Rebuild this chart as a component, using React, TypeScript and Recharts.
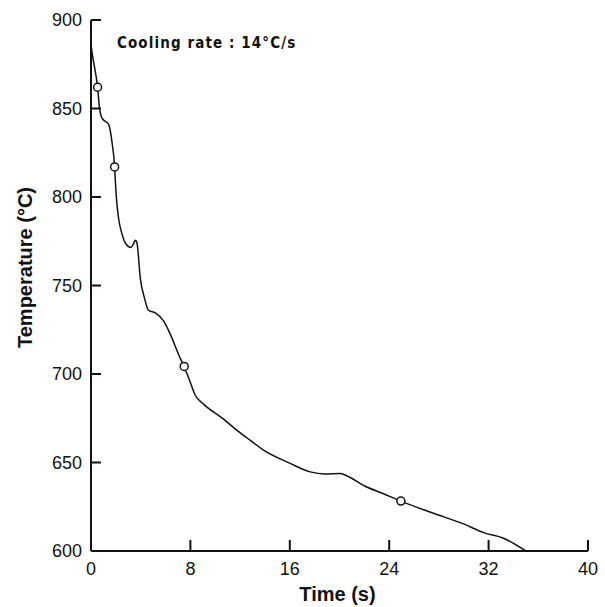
import React from 'react';
import { ComposedChart, Line, XAxis, YAxis } from 'recharts';

// cooling curve
const timeValues = [
  0, 0.12, 0.53, 0.69, 0.85, 1.01, 1.42, 1.69, 1.9, 1.96, 2.05, 2.22, 2.5, 2.76, 3.22, 3.45,
  3.56, 3.7, 3.97, 4.3, 4.63, 5.17, 5.84, 6.38, 7.05, 7.5, 7.85, 8.39, 9.06, 10.67, 11.6,
  12.82, 13.89, 16.03, 17.64, 18.8, 20.06, 20.86, 22.07, 23.5, 24.94, 27.56, 29.98, 31.59,
  33.2, 34.94,
];
const tempValues = [
  886, 880, 862, 850, 845, 843.5, 841, 831, 817, 809, 799, 788, 779, 774, 771.5, 774,
  775.5, 774, 754, 743, 736, 734.5, 730, 722.5, 711, 704, 698, 688, 683, 674.5, 669,
  662.5, 657, 649.5, 644.7, 643.5, 643.8, 641.5, 636.6, 632.5, 628.2, 621.3, 615.3, 610.4,
  607.2, 600.3,
];

// open circle markers
const markerTimes = [0.53, 1.9, 7.5, 24.94];
const markerTemps = [862, 817, 704.3, 628.2];

const xTicks = [0, 8, 16, 24, 32, 40];
const yTicks = [600, 650, 700, 750, 800, 850, 900];

const curve = timeValues.map((t, i) => ({ t, temp: tempValues[i] }));
const markers = markerTimes.map((t, i) => ({ t, temp: markerTemps[i] }));

const FONT = '"Liberation Sans", Arial, Helvetica, sans-serif';
const INK = '#111';

// ticks point inward, so the mark is drawn here next to the label
const YTick = ({ x, y, payload }: any) => (
  <g>
    <path d={`M${x},${y}h10`} stroke={INK} strokeWidth={2} />
    <text x={x - 9} y={y} dy={6} textAnchor="end" fontSize={18} fontFamily={FONT} fill={INK}>
      {payload.value}
    </text>
  </g>
);

const XTick = ({ x, y, payload }: any) => (
  <g>
    <path d={`M${x},${y}v-11`} stroke={INK} strokeWidth={2} />
    <text x={x} y={y} dy={24} textAnchor="middle" fontSize={18} fontFamily={FONT} fill={INK}>
      {payload.value}
    </text>
  </g>
);

export default function App() {
  return (
    <div style={{ position: 'absolute', left: 0, top: 0, width: 605, height: 607, background: '#fff' }}>
      <ComposedChart width={605} height={607} margin={{ top: 20, right: 17, bottom: 0, left: 0 }}>
        <XAxis
          dataKey="t"
          type="number"
          domain={[0, 40]}
          ticks={xTicks}
          height={56}
          tickSize={0}
          tickMargin={0}
          tickLine={false}
          axisLine={{ stroke: INK, strokeWidth: 2 }}
          tick={<XTick />}
          allowDataOverflow
          label={({ viewBox }: any) => (
            <text
              x={viewBox.x + viewBox.width / 2 - 2}
              y={viewBox.y + 50}
              textAnchor="middle"
              fontSize={20}
              fontWeight="bold"
              fontFamily={FONT}
              fill={INK}
            >
              Time (s)
            </text>
          )}
        />
        <YAxis
          dataKey="temp"
          type="number"
          domain={[600, 900]}
          ticks={yTicks}
          width={91}
          tickSize={0}
          tickMargin={0}
          tickLine={false}
          axisLine={{ stroke: INK, strokeWidth: 2 }}
          tick={<YTick />}
          allowDataOverflow
          label={({ viewBox }: any) => {
            const cx = 32;
            const cy = viewBox.y + viewBox.height / 2 - 18;
            return (
              <text
                x={cx}
                y={cy}
                transform={`rotate(-90, ${cx}, ${cy})`}
                textAnchor="middle"
                fontSize={20}
                fontWeight="bold"
                fontFamily={FONT}
                fill={INK}
              >
                Temperature (°C)
              </text>
            );
          }}
        />
        <Line
          data={curve}
          dataKey="temp"
          type="monotone"
          stroke={INK}
          strokeWidth={1.5}
          dot={false}
          isAnimationActive={false}
        />
        <Line
          data={markers}
          dataKey="temp"
          stroke="none"
          dot={{ r: 4, fill: '#fff', stroke: INK, strokeWidth: 1.5 }}
          isAnimationActive={false}
        />
      </ComposedChart>
      <div
        style={{
          position: 'absolute',
          left: 117,
          top: 34,
          fontFamily: '"DejaVu Sans Condensed", "DejaVu Sans", sans-serif',
          fontSize: 15,
          fontWeight: 600,
          letterSpacing: 1.1,
          color: INK,
          whiteSpace: 'nowrap',
        }}
      >
        Cooling rate : 14°C/s
      </div>
    </div>
  );
}
